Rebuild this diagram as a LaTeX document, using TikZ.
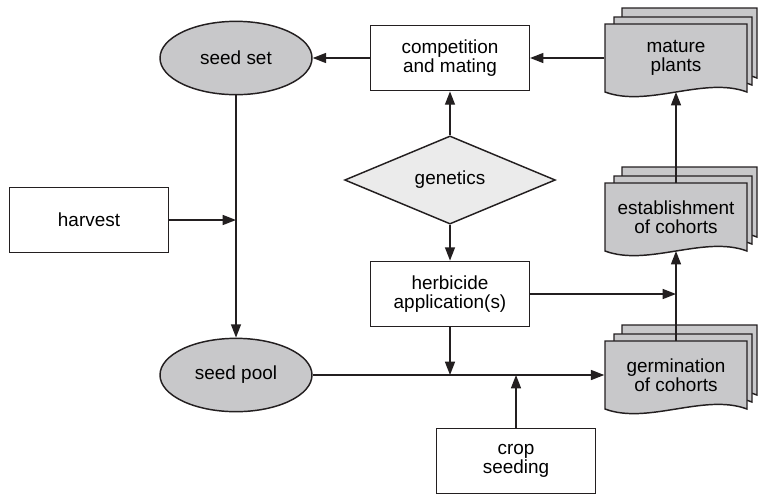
\documentclass[tikz,border=0pt]{standalone}
\usepackage{fontspec}
\setmainfont{Liberation Sans}
\usepackage{xcolor}
\definecolor{lineDark}{HTML}{231F20}
\definecolor{shadeGray}{HTML}{C8C8CA}
\definecolor{paleGray}{HTML}{EBEBEB}
\usepackage{tikz}
\usetikzlibrary{shapes,arrows.meta,positioning,calc}
\tikzset{%
  processBox/.style={%
    rectangle,
    draw=lineDark,
    fill=white,
    minimum width=119pt,
    minimum height=49pt,
    inner sep=0pt,
    align=center
  },
  stateEllipse/.style={%
    ellipse,
    draw=lineDark,
    fill=shadeGray,
    minimum width=114pt,
    minimum height=55pt,
    inner sep=0pt
  },
  decisionDiamond/.style={%
    diamond,
    draw=lineDark,
    fill=paleGray,
    minimum width=158pt,
    minimum height=60pt,
    inner sep=0pt
  },
  docNode/.style={%
    rectangle,
    minimum width=106.5pt,
    minimum height=50pt,
    inner sep=0pt,
    align=center
  },
  pageShape/.style={%
    draw=lineDark,
    fill=shadeGray
  },
  arrowLine/.style={%
    -{Triangle[length=10pt,width=7.5pt]},
    color=lineDark
  }
}
% one sheet with a wavy lower edge: left, top, right, bottom
\newcommand{\pageSheet}[4]{%
  \draw[pageShape] ({#1},{#2}) -- ({#3},{#2}) -- ({#3},{#4})
    .. controls ({(#3)-0.3*((#3)-(#1))},{(#4)-16}) and ({(#1)+0.3*((#3)-(#1))},{(#4)+16}) .. ({#1},{#4}) -- cycle;
}
% stack of three sheets, the front one carries the named node
\newcommand{\docStack}[6]{%
  \pageSheet{#2+17}{#3-16}{#4+10}{#5-14}
  \pageSheet{#2+9}{#3-7}{#4+5}{#5-7}
  \pageSheet{#2}{#3}{#4}{#5}
  \node[docNode] (#1) at ({(#2+#4)/2},{(#3+#5)/2}) {#6};
}

\begin{document}
\begin{tikzpicture}[x=0.75pt, y=-0.75pt, line width=1.1pt, font=\fontsize{14.2}{14.2}\selectfont]
  \useasboundingbox (0,0) rectangle (761,494);

  \node[stateEllipse] (seedSet) at (236,58) {seed set};
  \node[processBox] (compMating) at (450,58) {competition\\and mating};
  \node[decisionDiamond] (genetics) at (450,180) {genetics};
  \node[processBox] (herbApp) at (450,294) {herbicide\\application(s)};
  \node[processBox] (harvest) at (89,220) {harvest};
  \node[stateEllipse] (seedPool) at (236,375) {seed pool};
  \node[processBox] (cropSeed) at (516,461) {crop\\seeding};

  \docStack{maturePlants}{605}{24}{747}{92}{mature\\plants}
  \docStack{estCohorts}{605}{183}{747}{251}{establishment\\of cohorts}
  \docStack{germCohorts}{605}{341}{747}{409}{germination\\of cohorts}

  \draw[arrowLine] (compMating.west) -- (seedSet.east);
  \draw[arrowLine] (maturePlants.west) -- (compMating.east);
  \draw[arrowLine] (genetics.north) -- (compMating.south);
  \draw[arrowLine] (genetics.south) -- (herbApp.north);
  \draw[arrowLine] (herbApp.east) -- (herbApp.east -| estCohorts.south);
  \draw[arrowLine] (seedSet.south) -- (seedPool.north);
  \draw[arrowLine] (harvest.east) -- (harvest.east -| seedSet.south);
  \draw[arrowLine] (seedPool.east) -- (germCohorts.west);
  \draw[arrowLine] (herbApp.south) -- (herbApp.south |- seedPool.east);
  \draw[arrowLine] (cropSeed.north) -- (cropSeed.north |- seedPool.east);
  \draw[arrowLine] (germCohorts.north) -- (estCohorts.south);
  \draw[arrowLine] (estCohorts.north) -- (maturePlants.south);
\end{tikzpicture}
\end{document}
